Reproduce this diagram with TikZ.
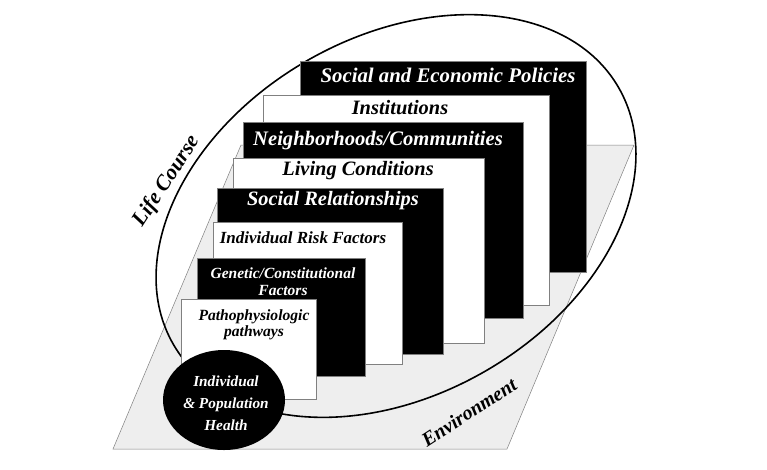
\documentclass[tikz,border=0pt]{standalone}
\usepackage{fontspec}
\setmainfont{Liberation Serif}

\tikzset{
  darkbox/.style={fill=black, draw=gray, line width=0.6pt},
  lightbox/.style={fill=white, draw=gray, line width=0.6pt},
  boxlabel/.style 2 args={font=\bfseries\itshape\fontsize{#1}{#2}\selectfont, align=center, inner sep=0pt}
}

\begin{document}
\begin{tikzpicture}[x=1pt, y=-1pt]
\useasboundingbox (0,0) rectangle (767,469);

% environment plane
\filldraw [fill=gray!13, draw=gray, line width=0.5pt] (113,449) -- (507,449) -- (634,145) -- (241,145) -- cycle;

% life course
\draw [line width=1.6pt] (396,216) circle [x radius=257, y radius=179, rotate=30];

\draw [darkbox]  (300,61) rectangle (586,272);
\draw [lightbox] (263,95) rectangle (549,305);
\draw [darkbox]  (243,122) rectangle (523,318);
\draw [lightbox] (233,158) rectangle (484,343);
\draw [darkbox]  (217,188) rectangle (443,354);
\draw [lightbox] (213,222) rectangle (402,364);
\draw [darkbox]  (197,258) rectangle (365,376);
\draw [lightbox] (181,299) rectangle (316,399);
\fill (224,400) circle [x radius=61, y radius=50];

\node [boxlabel={20.8}{24}, white] (policies) at (448,75) {Social and Economic Policies};
\node [boxlabel={20.4}{24}] (institutions) at (400,108) {Institutions};
\node [boxlabel={20.6}{24}, white] (neighborhoods) at (378,141) {Neighborhoods/Communities};
\node [boxlabel={20.4}{24}] (living) at (358,171) {Living Conditions};
\node [boxlabel={20.4}{24}, white] (relationships) at (333,201) {Social Relationships};
\node [boxlabel={17}{20}] (risk) at (303,238) {Individual Risk Factors};
\node [boxlabel={15.5}{17}, white] (genetic) at (283,282) {Genetic/Constitutional\\Factors};
\node [boxlabel={15.6}{16}] (pathways) at (254,325) {Pathophysiologic\\pathways};
\node [boxlabel={15.3}{22}, white] (health) at (226,403) {Individual\\\& Population\\Health};

\node [boxlabel={21.5}{24}, rotate=57] (lifecourse) at (167,181) {Life Course};
\node [boxlabel={20}{24}, rotate=33] (environment) at (469,412) {Environment};

\end{tikzpicture}
\end{document}
